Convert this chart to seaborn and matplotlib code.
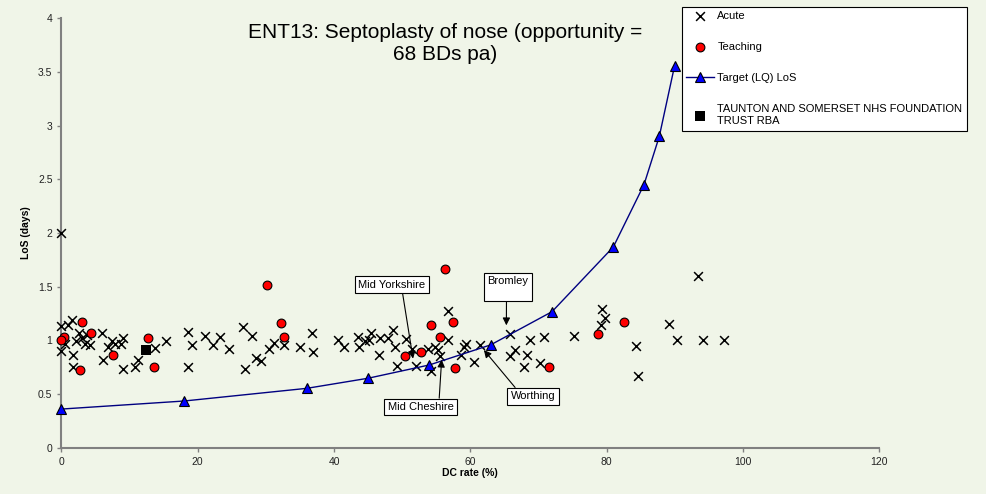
import matplotlib
matplotlib.use("Agg")
import matplotlib.pyplot as plt
import seaborn as sns
from matplotlib.ticker import FormatStrFormatter

# ── data ──────────────────────────────────────────────────────────────────────────
acute_x = [0.0, 0.0, 0.0, 0.5, 1.0, 1.5, 1.7, 1.7, 2.2, 2.5, 3.0, 3.4, 3.7, 4.2,
           5.9, 6.1, 6.9, 7.4, 7.8, 8.8, 9.1, 9.1, 10.8, 11.3, 13.7, 15.4,
           18.5, 19.1, 18.5, 21.0, 22.3, 23.2, 24.6, 26.7, 28.0, 27.0, 28.6, 29.3,
           30.5, 31.2, 32.7, 35.0, 36.8, 36.9, 40.6, 41.5, 43.5, 43.7, 44.5, 45.4,
           45.2, 46.6, 46.7, 47.9, 48.6, 48.9, 50.5, 49.2, 52.0, 51.5, 53.8,
           56.8, 56.7, 54.8, 55.2, 55.5, 54.2, 58.6, 59.1, 59.4, 60.5, 61.4,
           65.8, 65.9, 66.5, 67.9, 68.4, 68.8, 70.2, 70.8,
           75.3, 79.4, 79.8, 79.2, 84.3, 84.6, 89.1, 93.4, 90.4, 94.1, 97.2]
acute_y = [2.0, 1.13, 0.90, 0.97, 1.14, 1.19, 0.86, 0.755, 0.99, 1.07, 1.02, 0.97, 1.05, 0.96,
           1.07, 0.82, 0.94, 0.99, 0.97, 0.97, 1.02, 0.73, 0.755, 0.82, 0.93, 0.99,
           1.075, 0.96, 0.755, 1.04, 0.96, 1.03, 0.92, 1.12, 1.04, 0.73, 0.84, 0.81,
           0.92, 0.98, 0.96, 0.94, 1.07, 0.895, 1.0, 0.935, 1.03, 0.94, 0.99, 1.07,
           1.0, 0.86, 1.02, 1.02, 1.1, 0.935, 1.01, 0.76, 0.76, 0.92, 0.92,
           1.27, 1.0, 0.94, 0.91, 0.855, 0.71, 0.86, 0.94, 0.97, 0.80, 0.96,
           1.06, 0.855, 0.91, 0.755, 0.86, 1.0, 0.79, 1.035,
           1.04, 1.29, 1.205, 1.145, 0.95, 0.67, 1.15, 1.6, 1.0, 1.0, 1.0]

teach_x = [3.0, 0.3, 0.0, 4.4, 7.5, 2.7, 12.7, 13.6, 30.2, 32.2, 32.7,
           50.4, 52.8, 56.3, 54.2, 57.4, 55.6, 57.8, 71.5, 78.7, 82.5]
teach_y = [1.17, 1.03, 1.0, 1.07, 0.86, 0.72, 1.02, 0.75, 1.52, 1.16, 1.03,
           0.855, 0.895, 1.665, 1.14, 1.17, 1.03, 0.74, 0.755, 1.06, 1.17]

target_x = [0, 18, 36, 45, 54, 63, 72, 81, 85.5, 87.75, 90]
target_y = [0.36, 0.435, 0.553, 0.647, 0.771, 0.958, 1.267, 1.87, 2.45, 2.90, 3.56]

trust_x = [12.4]
trust_y = [0.91]

# name, label xy (box centre), arrow tip xy, arrow start on the box
callouts = [
    ("Mid Yorkshire", (48.5, 1.52), (51.6, 0.83), (0.65, 0.0)),
    ("Bromley\n",     (65.5, 1.50), (65.3, 1.14), (0.47, 0.0)),
    ("Mid Cheshire",  (52.7, 0.38), (55.8, 0.82), (0.78, 1.0)),
    ("Worthing",      (69.2, 0.48), (62.0, 0.91), (0.17, 1.0)),
]

BG = "#F0F5E8"

plt.rcParams["font.family"] = ["Liberation Sans", "DejaVu Sans"]

fig = plt.figure(figsize=(9.87, 4.94), dpi=100, facecolor=BG)
ax = fig.add_axes([0.0623, 0.0937, 0.8283, 0.8693])
ax.set_facecolor(BG)

sns.scatterplot(x=acute_x, y=acute_y, marker="x", color="black", s=40,
                linewidth=1.1, ax=ax, label="Acute", clip_on=False, zorder=3)
sns.scatterplot(x=teach_x, y=teach_y, marker="o", color="#FF0000", edgecolor="black",
                s=40, linewidth=0.8, ax=ax, label="Teaching", clip_on=False, zorder=4)
sns.lineplot(x=target_x, y=target_y, color="#000080", linewidth=1.0, marker="^",
             markersize=7, markerfacecolor="#0000FF", markeredgecolor="black",
             markeredgewidth=0.8, ax=ax, label="Target (LQ) LoS", clip_on=False, zorder=5)
sns.scatterplot(x=trust_x, y=trust_y, marker="s", color="black", s=55, linewidth=0,
                ax=ax, label="TAUNTON AND SOMERSET NHS FOUNDATION\nTRUST RBA", zorder=6)

for name, xy_text, xy_tip, rel in callouts:
    ax.annotate(name, xy=xy_tip, xytext=xy_text, textcoords="data",
                ha="center", va="center", fontsize=8, multialignment="left",
                bbox=dict(boxstyle="square,pad=0.3", fc="white", ec="black", lw=0.8),
                arrowprops=dict(arrowstyle="-|>", color="black", lw=0.8,
                                mutation_scale=11, shrinkA=0, shrinkB=0, relpos=rel),
                zorder=7)

ax.set_xlim(0, 120)
ax.set_ylim(0, 4)
ax.set_xticks(range(0, 121, 20))
ax.set_yticks([0, 0.5, 1, 1.5, 2, 2.5, 3, 3.5, 4])
ax.yaxis.set_major_formatter(FormatStrFormatter("%g"))
ax.tick_params(direction="out", length=3, width=1, color="#808080",
               labelsize=7.5, labelcolor="#222222")
sns.despine(ax=ax)
for side in ("left", "bottom"):
    ax.spines[side].set_color("#808080")
    ax.spines[side].set_linewidth(1.5)

ax.set_xlabel("DC rate (%)", fontsize=7.5, fontweight="bold", labelpad=1)
ax.set_ylabel("LoS (days)", fontsize=7.5, fontweight="bold", labelpad=5)

fig.text(0.451, 0.912, "ENT13: Septoplasty of nose (opportunity =\n68 BDs pa)",
         ha="center", va="center", fontsize=15, multialignment="center",
         linespacing=1.2)

handles, labels = ax.get_legend_handles_labels()
if ax.get_legend() is not None:
    ax.get_legend().remove()
leg = fig.legend(handles, labels, loc="upper left",
                 bbox_to_anchor=(681.7 / 987, 1 - 6.7 / 494), borderaxespad=0,
                 fontsize=8, frameon=True, fancybox=False, framealpha=1,
                 edgecolor="black", facecolor="white", labelspacing=1.9,
                 handlelength=2.5, handletextpad=0.3, borderpad=0.4,
                 scatterpoints=1)
leg.get_frame().set_linewidth(0.8)

fig.savefig("out.png", dpi=100, facecolor=BG)
